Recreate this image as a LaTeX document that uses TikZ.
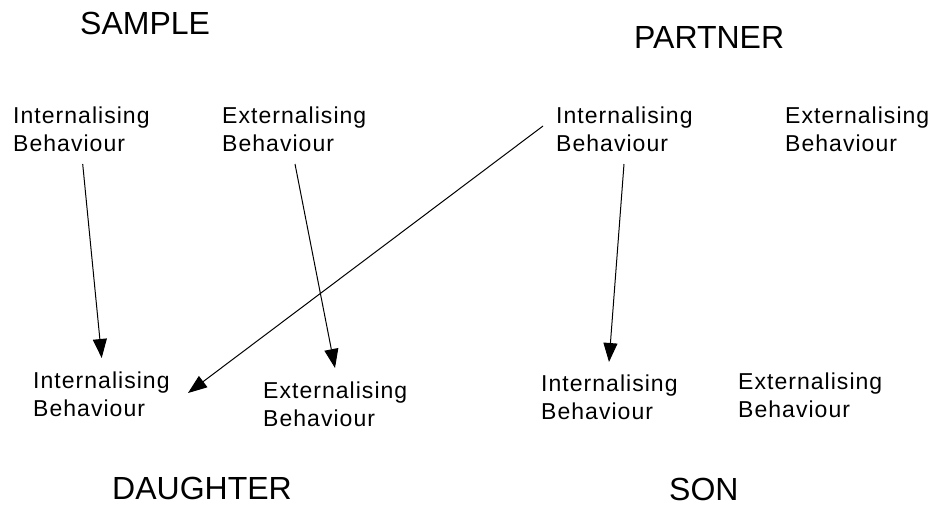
\documentclass[tikz,border=0pt]{standalone}
\usepackage{fontspec}
\setmainfont{Liberation Sans}
\newfontfamily\lblfont[LetterSpace=4.5]{Liberation Sans}
\usetikzlibrary{arrows.meta}
\begin{document}
\begin{tikzpicture}[x=1pt,y=-1pt,
  title/.style={anchor=north west,inner sep=0pt,font=\fontsize{32}{38}\selectfont},
  beh/.style={anchor=north west,inner sep=0pt,align=left,font=\lblfont\fontsize{23}{28}\selectfont},
  arr/.style={line width=1pt,-{Triangle[length=19pt,width=14pt]}}]
  \useasboundingbox (0,0) rectangle (936,506);

  % group headings
  \node[title] (sample)   at (80,12)  {SAMPLE};
  \node[title] (partner)  at (634,26) {PARTNER};
  \node[title] (daughter) at (112,477) {DAUGHTER};
  \node[title] (son)      at (669,478) {SON};

  % behaviour labels
  \node[beh] (sInt)   at (13,107)  {Internalising\\Behaviour};
  \node[beh] (sExt)   at (222,107) {Externalising\\Behaviour};
  \node[beh] (pInt)   at (556,107) {Internalising\\Behaviour};
  \node[beh] (pExt)   at (785,107) {Externalising\\Behaviour};
  \node[beh] (dInt)   at (33,372)  {Internalising\\Behaviour};
  \node[beh] (dExt)   at (263,382) {Externalising\\Behaviour};
  \node[beh] (sonInt) at (541,375) {Internalising\\Behaviour};
  \node[beh] (sonExt) at (738,373) {Externalising\\Behaviour};

  % paths
  \draw[arr] ([shift={(69.7,57)}]sInt.north west) -- ([shift={(68.7,-14)}]dInt.north west);
  \draw[arr] ([shift={(73,57)}]sExt.north west) -- ([shift={(72,-14)}]dExt.north west);
  \draw[arr] ([shift={(-13,19)}]pInt.north west) -- ([shift={(155,21)}]dInt.north west);
  \draw[arr] ([shift={(68,57)}]pInt.north west) -- ([shift={(68,-13)}]sonInt.north west);
\end{tikzpicture}
\end{document}
